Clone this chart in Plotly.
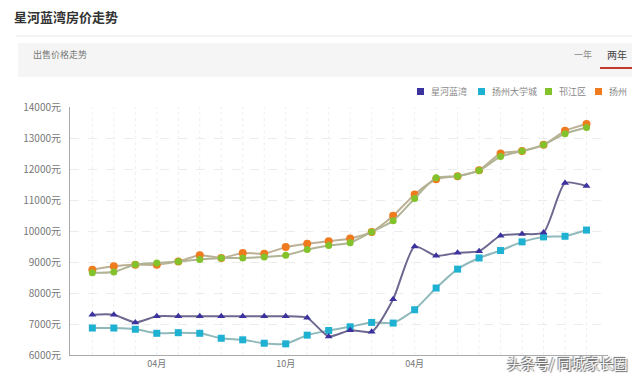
import plotly.graph_objects as go

# ---------------- data ----------------
month_idx = list(range(24))
tick_idx = [3, 9, 15]
tick_text = ["04月", "10月", "04月"]
y_ticks = [6000, 7000, 8000, 9000, 10000, 11000, 12000, 13000, 14000]
y_tick_text = [f"{v}元" for v in y_ticks]

names = ["星河蓝湾", "扬州大学城", "邗江区", "扬州"]
xinghe = [7300, 7300, 7050, 7250, 7250, 7250, 7250, 7250, 7250, 7250, 7200, 6600,
          6800, 6750, 7800, 9500, 9200, 9300, 9350, 9850, 9900, 9950, 11550, 11450]
daxuecheng = [6870, 6870, 6830, 6700, 6720, 6700, 6540, 6490, 6380, 6360, 6640, 6790,
              6910, 7050, 7030, 7460, 8160, 8770, 9130, 9370, 9650, 9810, 9830, 10030]
hanjiang = [8650, 8680, 8920, 8970, 9020, 9080, 9130, 9130, 9160, 9220, 9400, 9530,
            9620, 9970, 10330, 11050, 11720, 11770, 11950, 12400, 12580, 12780, 13140, 13340]
yangzhou = [8750, 8860, 8910, 8910, 9020, 9220, 9130, 9290, 9270, 9480, 9590, 9670,
            9760, 9970, 10490, 11180, 11670, 11770, 11960, 12500, 12580, 12780, 13230, 13450]

# ---------------- layout geometry ----------------
# the page body has an 8px margin, so the figure is sized/placed to compensate
OFF = 8
W, H = 640 - OFF, 377 - OFF
L, T = 70 - OFF, 107 - OFF
PW, PH = 538, 248
R = W - L - PW
B = H - T - PH
FONT = "Noto Sans CJK SC, sans-serif"


def px(x):  # page pixel -> paper fraction
    return (x - OFF - L) / PW


def py(y):
    return (H - B - (y - OFF)) / PH


colors = {"星河蓝湾": "#3c329e", "扬州大学城": "#1eb1d2", "邗江区": "#84c22c", "扬州": "#f07a1e"}
line_colors = {"星河蓝湾": "#6d6890", "扬州大学城": "#8fb9bb", "邗江区": "#b0b394", "扬州": "#bdb195"}

series = [
    # drawing order: back to front
    (yangzhou, names[3], "circle", 8),
    (hanjiang, names[2], "circle", 7),
    (daxuecheng, names[1], "square", 7),
    (xinghe, names[0], "triangle-up", 7),
]

fig = go.Figure()
for vals, name, sym, sz in series:
    fig.add_trace(go.Scatter(
        x=month_idx, y=vals, mode="lines+markers", name=name, showlegend=False,
        line=dict(color=line_colors[name], width=2, shape="spline", smoothing=0.6),
        marker=dict(color=colors[name], symbol=sym, size=sz, line=dict(width=0)),
    ))

fig.update_layout(
    width=W, height=H,
    margin=dict(l=L, r=R, t=T, b=B, autoexpand=False),
    paper_bgcolor="white", plot_bgcolor="white",
    font=dict(family=FONT, color="#777", size=9),
    showlegend=False,
    xaxis=dict(range=[-1.04, 24], tickvals=tick_idx, ticktext=tick_text,
               showgrid=False, zeroline=False, showline=True, linecolor="#aaa",
               linewidth=1, ticks="", tickfont=dict(size=9, color="#777")),
    yaxis=dict(range=[6000, 14000], tickvals=y_ticks, ticktext=y_tick_text,
               showgrid=True, gridcolor="#ececec", griddash="dash",
               zeroline=False, showline=True, linecolor="#aaa", linewidth=1,
               ticks="", ticklabelstandoff=6, tickfont=dict(size=10, color="#777")),
)

# vertical dotted grid at every month
shapes = []
for i in month_idx:
    shapes.append(dict(type="line", xref="x", yref="paper", x0=i, x1=i, y0=0, y1=1,
                       line=dict(color="#efefef", width=1, dash="dot"), layer="below"))

# header decorations
shapes += [
    dict(type="line", xref="paper", yref="paper", x0=px(16), x1=px(640), y0=py(36), y1=py(36),
         line=dict(color="#e6e6e6", width=1)),
    dict(type="rect", xref="paper", yref="paper", x0=px(18), x1=px(636), y0=py(77), y1=py(43),
         fillcolor="#f5f5f5", line=dict(width=0), layer="below"),
    dict(type="line", xref="paper", yref="paper", x0=px(600), x1=px(635), y0=py(68), y1=py(68),
         line=dict(color="#c0392b", width=2)),
]

ann = [
    dict(text="<b>星河蓝湾房价走势</b>", x=px(12), y=py(16), xanchor="left", yanchor="middle",
         font=dict(size=13, color="#333", family=FONT)),
    dict(text="出售价格走势", x=px(31), y=py(55), xanchor="left", yanchor="middle",
         font=dict(size=9, color="#777", family=FONT)),
    dict(text="一年", x=px(583), y=py(55), xanchor="center", yanchor="middle",
         font=dict(size=9, color="#888", family=FONT)),
    dict(text="两年", x=px(617), y=py(55), xanchor="center", yanchor="middle",
         font=dict(size=10, color="#444", family=FONT)),
    dict(text="头条号/ 同城家长圈", x=px(630), y=py(363), xanchor="right", yanchor="middle",
         font=dict(size=14, color="#f6f6f6", family=FONT,
                   shadow="1px 1px 1px #666, -1px -1px 1px #666")),
]

# compact legend (square swatch + label) in the top-right
legend_x = [417, 478, 545, 595]
for name, lx in zip(names, legend_x):
    shapes.append(dict(type="rect", xref="paper", yref="paper",
                       x0=px(lx), x1=px(lx + 7), y0=py(95), y1=py(88),
                       fillcolor=colors[name], line=dict(width=0)))
    ann.append(dict(text=name, x=px(lx + 12), y=py(91.5), xanchor="left", yanchor="middle",
                    font=dict(size=9, color="#888", family=FONT)))

for a in ann:
    a.update(xref="paper", yref="paper", showarrow=False)
fig.update_layout(shapes=shapes, annotations=ann)

fig.write_html("out.html")
